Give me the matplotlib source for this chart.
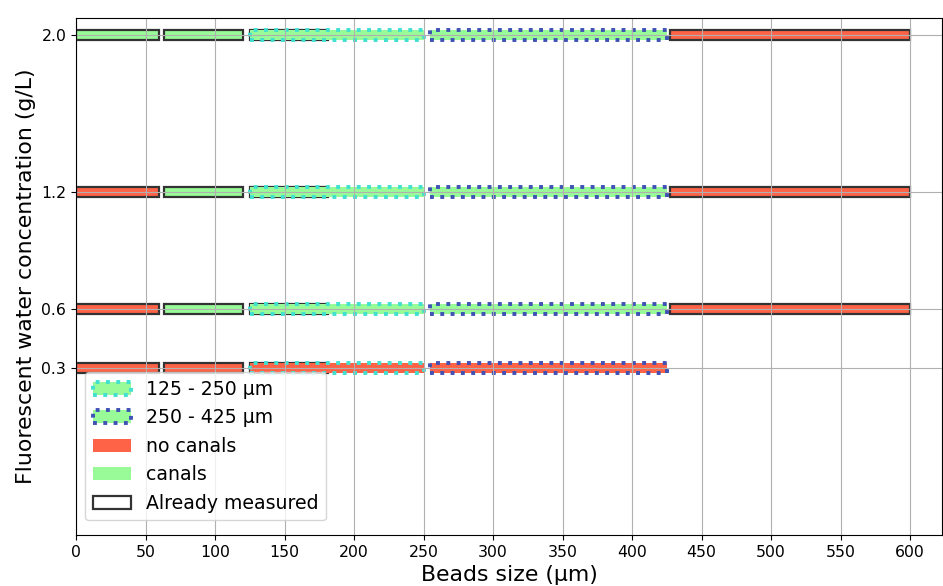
import numpy as np
import matplotlib
matplotlib.use("Agg")
import matplotlib.pyplot as plt
from matplotlib.patches import Patch

# concentrations (g/L) and size bins (um)
concentrations = [0.3, 0.6, 1.2, 2.0]
bin_left = [0, 63, 125, 255, 427]
bin_width = [60, 57, 125, 170, 173]

# fill per bin and row: 'r' = no canals, 'g' = canals, None = no bar
fills = {
    0.3: ['r', 'r', 'r', 'r', None],
    0.6: ['r', 'g', 'g', 'g', 'r'],
    1.2: ['r', 'g', 'g', 'g', 'r'],
    2.0: ['g', 'g', 'g', 'g', 'r'],
}

# already measured parts (left, width)
measured_left = [0, 63, 125, 427]
measured_width = [60, 57, 56, 173]

# dotted outline for the two bead size ranges
dotted_bins = [2, 3]
dotted_labels = ['125 - 250 µm', '250 - 425 µm']

xticks = np.arange(0, 601, 50)

red = '#ff6347'
green = '#98fb98'
dark = '#333333'
dot_colors = ['#40e0d0', '#3f51b5']

fig = plt.figure(figsize=(9.43, 5.86), dpi=100)
ax = fig.add_axes([76 / 943, 51 / 586, 866 / 943, 517 / 586])

h = 0.05
for c in concentrations:
    row = fills[c]
    # measured bars with black outline
    for l, w in zip(measured_left, measured_width):
        idx = [i for i in range(len(bin_left)) if bin_left[i] <= l < bin_left[i] + bin_width[i] + 1][0]
        if row[idx] is None:
            continue
        ax.barh(c, w, left=l, height=h, color=red if row[idx] == 'r' else green,
                edgecolor=dark, linewidth=1.6, zorder=1)
    # dotted size range bars
    for k, i in enumerate(dotted_bins):
        if row[i] is None:
            continue
        ax.barh(c, bin_width[i], left=bin_left[i], height=h,
                color=red if row[i] == 'r' else green,
                edgecolor=dot_colors[k], linewidth=2.8, linestyle=':', zorder=1.1)

ax.set_xlim(0, 623)
ax.set_ylim(-0.552, 2.087)
ax.set_xticks(xticks)
ax.set_yticks(concentrations)
ax.set_yticklabels([str(c) for c in concentrations])
ax.tick_params(labelsize=11.3)
ax.grid(True)
ax.set_xlabel('Beads size (µm)', fontsize=15.8)
ax.set_ylabel('Fluorescent water concentration (g/L)', fontsize=15.8)

handles = [
    Patch(facecolor=green, edgecolor=dot_colors[0], linestyle=':', linewidth=2.8, label=dotted_labels[0]),
    Patch(facecolor=green, edgecolor=dot_colors[1], linestyle=':', linewidth=2.8, label=dotted_labels[1]),
    Patch(facecolor=red, label='no canals'),
    Patch(facecolor=green, label='canals'),
    Patch(facecolor='white', edgecolor=dark, linewidth=1.6, label='Already measured'),
]
ax.legend(handles=handles, loc='lower left', bbox_to_anchor=(0.0, 0.01), fontsize=13.6)

fig.savefig('out.png', dpi=100)
